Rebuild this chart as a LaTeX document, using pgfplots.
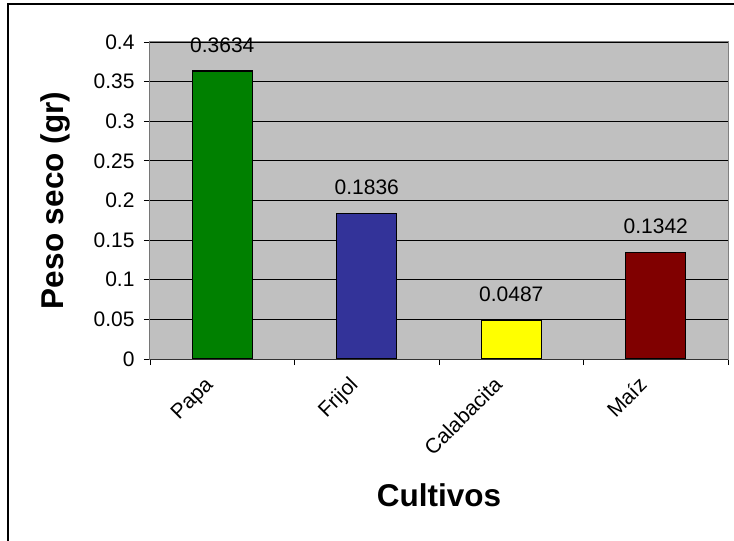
\documentclass[border=0pt]{standalone}
\usepackage{fontspec}
\setmainfont{Liberation Sans}
\usepackage{pgfplots}
\pgfplotsset{compat=1.18}
\definecolor{areagray}{HTML}{C0C0C0}
\definecolor{framegray}{HTML}{808080}
\definecolor{papagreen}{HTML}{008000}
\definecolor{frijolblue}{HTML}{333399}
\definecolor{calabyellow}{HTML}{FFFF00}
\definecolor{maizred}{HTML}{800000}
\newcommand{\tickfont}{\fontsize{21}{25}\selectfont}
\newcommand{\labfont}{\fontsize{31.5}{37}\selectfont\bfseries}
\begin{document}
\begin{tikzpicture}[x=1pt,y=1pt]
\useasboundingbox (0,0) rectangle (734,541);
% outer chart frame
\draw[line width=1.2pt] (8,-20) -- (8,537) -- (760,537);
\begin{axis}[
  at={(150pt,182pt)}, anchor=south west,
  scale only axis, width=578pt, height=317pt,
  xmin=-0.5, xmax=3.5, ymin=0, ymax=0.4,
  axis background/.style={fill=areagray},
  axis line style={draw=framegray, line width=1pt},
  tick pos=left, tick align=outside,
  tick style={black, line width=0.8pt},
  major tick length=6pt,
  ytick={0,0.05,0.1,0.15,0.2,0.25,0.3,0.35,0.4},
  yticklabels={0,0.05,0.1,0.15,0.2,0.25,0.3,0.35,0.4},
  yticklabel style={font=\tickfont, xshift=-6pt},
  ymajorgrids, major grid style={black, line width=0.8pt},
  xtick={-0.5,0.5,1.5,2.5,3.5},
  xticklabels={},
  extra x ticks={0,1,2,3},
  extra x tick labels={Papa,Frijol,Calabacita,Maíz},
  extra x tick style={major tick length=0pt,
    xticklabel style={font=\tickfont, rotate=45, anchor=north east, inner sep=2pt,
      xshift=-22.7pt, yshift=3.7pt}},
  ylabel={Peso seco (gr)},
  ylabel style={font=\labfont, at={(axis description cs:-0.164,0.5)}, anchor=center},
  xlabel={Cultivos},
  xlabel style={font=\labfont, at={(axis description cs:0.5,-0.429)}, anchor=center},
  nodes near coords,
  point meta=explicit symbolic,
  every node near coord/.append style={font=\tickfont, anchor=south, inner sep=0pt, yshift=18pt, black},
]
\addplot[ybar, bar width=60pt, bar shift=0pt, draw=black, line width=1.2pt, fill=papagreen]
  coordinates {(0,0.3634) [0.3634]};
\addplot[ybar, bar width=60pt, bar shift=0pt, draw=black, line width=1.2pt, fill=frijolblue]
  coordinates {(1,0.1836) [0.1836]};
\addplot[ybar, bar width=60pt, bar shift=0pt, draw=black, line width=1.2pt, fill=calabyellow]
  coordinates {(2,0.0487) [0.0487]};
\addplot[ybar, bar width=60pt, bar shift=0pt, draw=black, line width=1.2pt, fill=maizred]
  coordinates {(3,0.1342) [0.1342]};
% darker left and bottom axis lines
\draw[black!80, line width=1pt] (rel axis cs:0,1) -- (rel axis cs:0,0) -- (rel axis cs:1,0);
\end{axis}
\end{tikzpicture}
\end{document}
